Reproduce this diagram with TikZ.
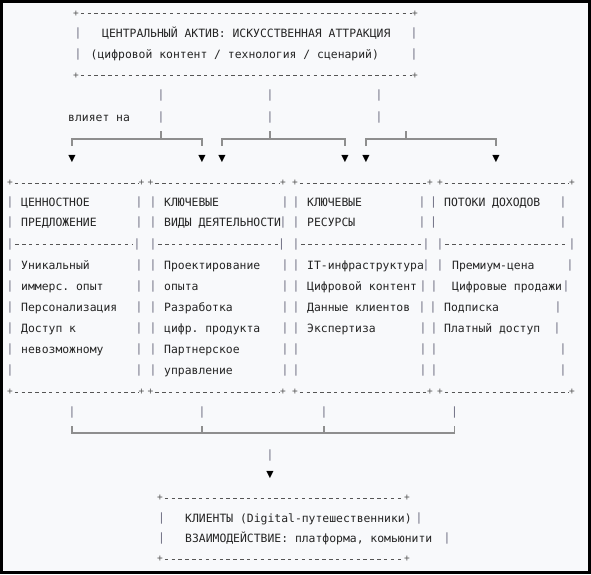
\documentclass[tikz,border=0pt]{standalone}
\usepackage{fontspec}
\setmonofont{DejaVu Sans Mono}
\newfontfamily\trifont{DejaVu Sans}
\definecolor{bgc}{HTML}{F8F9FB}
\definecolor{txc}{HTML}{252525}
\definecolor{pic}{HTML}{6C6C80}
\definecolor{dsc}{HTML}{555555}
\definecolor{brc}{HTML}{8E8E8E}
\newcommand{\monof}{\ttfamily\fontsize{11.4}{13}\selectfont}
\begin{document}
\begin{tikzpicture}[x=1pt,y=-1pt,
 txt/.style={font=\monof,text=txc,inner sep=0pt,anchor=base west},
 pipe/.style={font=\monof,text=pic,inner sep=0pt},
 plus/.style={font=\ttfamily\fontsize{9.5}{11}\selectfont,text=dsc,inner sep=0pt},
 dashline/.style={draw=dsc,line width=0.9pt,dash pattern=on 3.4pt off 3.45pt},
 brk/.style={draw=brc,line width=1.3pt},
 tri/.style={font=\trifont\fontsize{9.5}{11}\selectfont,text=black,inner sep=0pt}]

\useasboundingbox (0,0) rectangle (591,574);
\fill[bgc] (0,0) rectangle (591,574);
\draw[black,line width=2.6pt] (1.3,1.3) rectangle (589.7,572.7);

% ---------- top box ----------
\node[plus] (t1) at (76,13.5) {+};
\node[plus] (t2) at (415,13.5) {+};
\node[plus] (t3) at (76,75.5) {+};
\node[plus] (t4) at (415,75.5) {+};
\draw[dashline] ([xshift=1.7pt]t1.east) -- (t2.west);
\draw[dashline] ([xshift=1.7pt]t3.east) -- (t4.west);
\node[pipe] (tl1) at (78,33) {|};
\node[pipe] (tl2) at (78,54) {|};
\node[pipe] (tr1) at (414,33) {|};
\node[pipe] (tr2) at (414,54) {|};
\node[txt] (title) at (102,37.1) {ЦЕНТРАЛЬНЫЙ АКТИВ: ИСКУССТВЕННАЯ АТТРАКЦИЯ};
\node[txt] (subtitle) at (90.5,58.1) {(цифровой контент / технология / сценарий)};

% ---------- influence connectors ----------
\node[txt] (infl) at (68,121.7) {влияет на};
\foreach \x [count=\i] in {161,270,379}{
  \node[pipe] (va\i) at (\x,95.5) {|};
  \node[pipe] (vb\i) at (\x,117) {|};
}
\foreach \x [count=\i] in {72,202,222,345,366,496}{
  \node[tri] (ar\i) at (\x,159) {▼};
  \coordinate (k\i) at (\x,146);
}
\coordinate (j1) at (161,131);
\coordinate (j2) at (270,131);
\coordinate (j3) at (406,131);
\draw[brk] (k1) -- (72,139) -- (202,139) -- (k2);
\draw[brk] (j1) -- (161,139);
\draw[brk] (k3) -- (222,139) -- (345,139) -- (k4);
\draw[brk] (j2) -- (270,139);
\draw[brk] (k5) -- (366,139) -- (496,139) -- (k6);
\draw[brk] (j3) -- (406,139);

% ---------- four column boxes ----------
\foreach \a/\b [count=\i] in {10/141.5,150.5/283,295/430,440/572}{
  \node[plus] (ca\i) at (\a,183) {+};
  \node[plus] (cb\i) at (\b,183) {+};
  \draw[dashline] ([xshift=1.7pt]ca\i.east) -- (cb\i.west);
  \node[plus] (cc\i) at (\a,392) {+};
  \node[plus] (cd\i) at (\b,392) {+};
  \draw[dashline] ([xshift=1.7pt]cc\i.east) -- (cd\i.west);
}
% separator row
\foreach \a/\b [count=\i] in {10/137,153/281.5,296/426,440/572}{
  \node[pipe] (sa\i) at (\a,244) {|};
  \node[pipe] (sb\i) at (\b,244) {|};
  \draw[dashline] ([xshift=1.7pt]sa\i.east) -- (sb\i.west);
}
% pipes of the text rows
\foreach \y/\p/\q/\r/\s [count=\n] in {
  202/285/422/433.5/563,
  222.5/283/422/433.5/563,
  265.5/285/426/440/570,
  286/285/423/434/566,
  307/285/422/433/558,
  328/285/423/434/557,
  349/285/423/434/563,
  370/285/423/434/563}{
  \node[pipe] (r\n a) at (10,\y) {|};
  \node[pipe] (r\n b) at (139,\y) {|};
  \node[pipe] (r\n c) at (153,\y) {|};
  \node[pipe] (r\n d) at (\p,\y) {|};
  \node[pipe] (r\n e) at (296,\y) {|};
  \node[pipe] (r\n f) at (\q,\y) {|};
  \node[pipe] (r\n g) at (\r,\y) {|};
  \node[pipe] (r\n h) at (\s,\y) {|};
}
% column 1
\node[txt] (c1h1) at (21,206.1) {ЦЕННОСТНОЕ};
\node[txt] (c1h2) at (21,226.6) {ПРЕДЛОЖЕНИЕ};
\node[txt] (c1t1) at (21,269.6) {Уникальный};
\node[txt] (c1t2) at (21,290.1) {иммерс. опыт};
\node[txt] (c1t3) at (21,311.1) {Персонализация};
\node[txt] (c1t4) at (21,332.1) {Доступ к};
\node[txt] (c1t5) at (21,353.1) {невозможному};
% column 2
\node[txt] (c2h1) at (164,206.1) {КЛЮЧЕВЫЕ};
\node[txt] (c2h2) at (164,226.6) {ВИДЫ ДЕЯТЕЛЬНОСТИ};
\node[txt] (c2t1) at (164,269.6) {Проектирование};
\node[txt] (c2t2) at (164,290.1) {опыта};
\node[txt] (c2t3) at (164,311.1) {Разработка};
\node[txt] (c2t4) at (164,332.1) {цифр. продукта};
\node[txt] (c2t5) at (164,353.1) {Партнерское};
\node[txt] (c2t6) at (164,374.1) {управление};
% column 3
\node[txt] (c3h1) at (307,206.1) {КЛЮЧЕВЫЕ};
\node[txt] (c3h2) at (307,226.6) {РЕСУРСЫ};
\node[txt] (c3t1) at (307,269.6) {IT-инфраструктура};
\node[txt] (c3t2) at (307,290.1) {Цифровой контент};
\node[txt] (c3t3) at (307,311.1) {Данные клиентов};
\node[txt] (c3t4) at (307,332.1) {Экспертиза};
% column 4
\node[txt] (c4h1) at (444,206.1) {ПОТОКИ ДОХОДОВ};
\node[txt] (c4t1) at (452,269.6) {Премиум-цена};
\node[txt] (c4t2) at (452,290.1) {Цифровые продажи};
\node[txt] (c4t3) at (444,311.1) {Подписка};
\node[txt] (c4t4) at (444,332.1) {Платный доступ};

% ---------- merge connector ----------
\foreach \x [count=\i] in {72,202,324,454.5}{
  \node[pipe] (m\i) at (\x,412) {|};
  \coordinate (u\i) at (\x,426);
}
\draw[brk] (u1) -- (72,433) -- (454.5,433) -- (u4);
\draw[brk] (u2) -- (202,433);
\draw[brk] (u3) -- (324,433);
\node[pipe] (mv) at (270,455) {|};
\node[tri] (mar) at (270,475) {▼};

% ---------- bottom box ----------
\node[plus] (b1) at (160,498) {+};
\node[plus] (b2) at (407,498) {+};
\node[plus] (b3) at (160,559) {+};
\node[plus] (b4) at (407,559) {+};
\draw[dashline] ([xshift=1.7pt]b1.east) -- (b2.west);
\draw[dashline] ([xshift=1.7pt]b3.east) -- (b4.west);
\node[pipe] (bl1) at (161.5,518) {|};
\node[pipe] (bl2) at (161.5,538) {|};
\node[pipe] (br1) at (419,518) {|};
\node[pipe] (br2) at (447,538) {|};
\node[txt] (cl1) at (185,522.1) {КЛИЕНТЫ (Digital-путешественники)};
\node[txt] (cl2) at (185,542.1) {ВЗАИМОДЕЙСТВИЕ: платформа, комьюнити};
\end{tikzpicture}
\end{document}
